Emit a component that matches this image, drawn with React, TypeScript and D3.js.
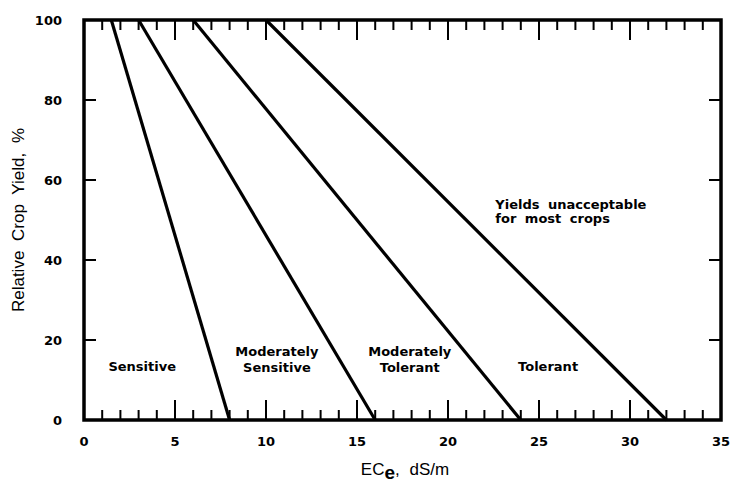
import React from "react";
import * as d3 from "d3";

// crop tolerance lines: threshold (100% yield) and zero-yield ECe
const groups = ["Sensitive", "Moderately Sensitive", "Moderately Tolerant", "Tolerant"];
const thresholdEC = [1.5, 3, 6, 10];
const zeroYieldEC = [8, 16, 24, 32];
const xTicks = [0, 5, 10, 15, 20, 25, 30, 35];
const yTicks = [0, 20, 40, 60, 80, 100];

// region label centres in data units
const labelX = [3.2, 10.6, 17.9, 25.5];
const labelY = [13.5, 13.5, 13.5, 13.5];
const noteLines = ["Yields unacceptable", "for most crops"];

const width = 731;
const height = 485;
const left = 84, right = 721, top = 20, bottom = 420;

const App = () => {
  const x = d3.scaleLinear().domain([0, 35]).range([left, right]);
  const y = d3.scaleLinear().domain([0, 100]).range([bottom, top]);
  const minor = d3.range(0, 36, 1);
  const line = d3.line<[number, number]>().x(d => x(d[0])).y(d => y(d[1]));
  const bold = "'DejaVu Sans', sans-serif";

  return (
    <svg width={width} height={height} style={{ position: "absolute", left: 0, top: 0, background: "#fff" }}>
      <g stroke="#000" strokeWidth={2}>
        {minor.map(v => {
          const len = v % 5 === 0 ? 20 : 10;
          return (
            <g key={v}>
              <line x1={x(v)} x2={x(v)} y1={bottom} y2={bottom - len} />
              <line x1={x(v)} x2={x(v)} y1={top} y2={top + len} />
            </g>
          );
        })}
        {yTicks.map(v => (
          <g key={v}>
            <line x1={left} x2={left + 12} y1={y(v)} y2={y(v)} />
            <line x1={right} x2={right - 12} y1={y(v)} y2={y(v)} />
          </g>
        ))}
      </g>
      <rect x={left} y={top} width={right - left} height={bottom - top} fill="none" stroke="#000" strokeWidth={3.5} />
      {groups.map((g, i) => (
        <path key={g} d={line([[thresholdEC[i], 100], [zeroYieldEC[i], 0]]) || ""} fill="none" stroke="#000" strokeWidth={3.2} />
      ))}
      <g fontFamily={bold} fontWeight="bold" fontSize={13} fill="#000">
        {xTicks.map(v => (
          <text key={v} x={x(v)} y={bottom + 26} textAnchor="middle">{v}</text>
        ))}
        {yTicks.map(v => (
          <text key={v} x={left - 22} y={y(v) + 5} textAnchor="end">{v}</text>
        ))}
        {groups.map((g, i) => {
          const parts = g.split(" ");
          const cx = x(labelX[i]);
          const cy = y(labelY[i]);
          if (parts.length === 1) {
            return <text key={g} x={cx} y={cy + 5} textAnchor="middle">{g}</text>;
          }
          return (
            <text key={g} x={cx} textAnchor="middle">
              <tspan x={cx} y={cy - 10}>{parts[0]}</tspan>
              <tspan x={cx} y={cy + 6}>{parts[1]}</tspan>
            </text>
          );
        })}
        <text x={x(22.6)} y={y(52.7)} wordSpacing={4}>
          {noteLines.map((s, i) => (
            <tspan key={i} x={x(22.6)} dy={i === 0 ? 0 : 14}>{s}</tspan>
          ))}
        </text>
      </g>
      <g fontFamily="'Liberation Sans', Arial, sans-serif" fontSize={17} fill="#000" wordSpacing={5}>
        <text x={405} y={475} textAnchor="middle">
          EC<tspan fontSize={19} fontWeight="bold" dy={4}>e</tspan>
          <tspan dy={-4}>, dS/m</tspan>
        </text>
        <text transform={`translate(24,${(top + bottom) / 2}) rotate(-90)`} textAnchor="middle">
          Relative Crop Yield, %
        </text>
      </g>
    </svg>
  );
};

export default App;
